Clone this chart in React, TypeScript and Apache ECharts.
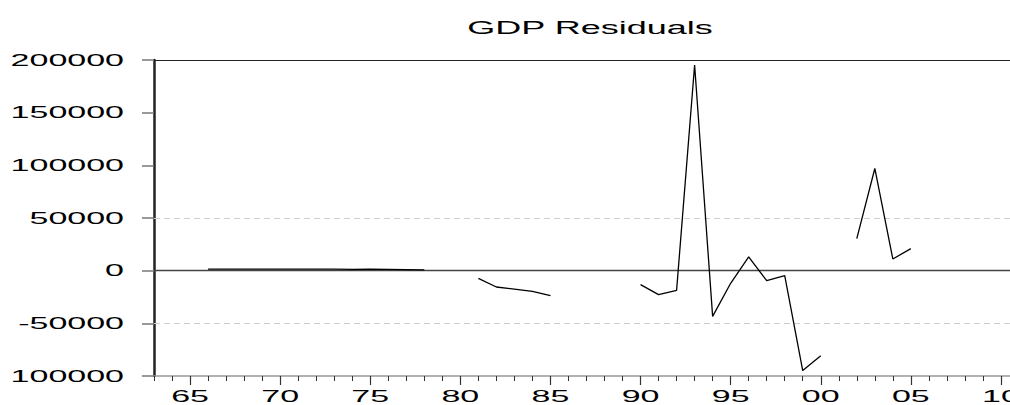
import React, { useEffect, useRef } from "react";
import * as echarts from "echarts";

// Categories: years on the x axis
const years: string[] = [];
for (let y = 1963; y <= 2012; y++) years.push(String(y));

// GDP residuals per year (null = no observation)
const residuals: (number | null)[] = [
  null, null, null, // 1963-1965
  1500, 1400, 1500, 1400, 1500, 1400, 1500, 1400, 1300, 1400, 1300, 1000, 700, // 1966-1978
  null, null, // 1979-1980
  -7300, -15500, -17600, -19700, -23800, // 1981-1985
  null, null, null, null, // 1986-1989
  -13300, -22800, -18700, 195200, -43400, -12000, 13000, -9500, -4800, -94800, -80800, // 1990-2000
  null, // 2001
  30400, 97000, 11100, 20900, // 2002-2005
  null, null, null, null, null, null, null, // 2006-2012
];

const yTicks = [200000, 150000, 100000, 50000, 0, -50000, -100000];
const yTickLabels = ["200000", "150000", "100000", "50000", "0", "-50000", "100000"];
const xLabelYears = ["1965", "1970", "1975", "1980", "1985", "1990", "1995", "2000", "2005", "2010"];
const xLabelTexts = ["65", "70", "75", "80", "85", "90", "95", "00", "05", "10"];
const gridValues = [50000, -50000];
const titleText = "GDP Residuals";

const FONT_FAMILY = '"Liberation Sans", Arial, sans-serif';

export default function App() {
  const ref = useRef<HTMLDivElement>(null);

  useEffect(() => {
    if (!ref.current) return;
    const chart = echarts.init(ref.current, undefined, { renderer: "svg" });
    const option: any = {
      animation: false,
      backgroundColor: "#ffffff",
      grid: {
        left: 154,
        top: 60,
        width: 883,
        height: 316,
        containLabel: false,
        outerBoundsMode: "none",
      },
      xAxis: [
        {
          type: "category",
          data: years,
          boundaryGap: false,
          position: "bottom",
          axisLine: { show: true, onZero: false, lineStyle: { color: "#999", width: 1.5 } },
          axisTick: { show: true, interval: 0, length: 5, lineStyle: { color: "#333", width: 1 } },
          axisLabel: { show: false },
          splitLine: { show: false },
        },
        {
          type: "category",
          data: years,
          boundaryGap: false,
          position: "bottom",
          axisLine: { show: false, onZero: false },
          axisTick: {
            show: true,
            interval: (_i: number, v: string) => Number(v) % 5 === 0,
            length: 9,
            lineStyle: { color: "#333", width: 1.2 },
          },
          axisLabel: { show: false },
          splitLine: { show: false },
        },
        {
          type: "category",
          data: years,
          boundaryGap: false,
          position: "top",
          axisLine: { show: true, onZero: false, lineStyle: { color: "#222", width: 1.2 } },
          axisTick: { show: false },
          axisLabel: { show: false },
          splitLine: { show: false },
        },
      ],
      yAxis: {
        type: "value",
        min: -100000,
        max: 200000,
        interval: 50000,
        axisLine: { show: true, onZero: false, lineStyle: { color: "#222", width: 2.5 } },
        axisTick: { show: true, length: 12, lineStyle: { color: "#777", width: 1.5 } },
        axisLabel: { show: false },
        splitLine: { show: false },
      },
      series: [
        {
          type: "line",
          data: residuals,
          xAxisIndex: 0,
          yAxisIndex: 0,
          symbol: "none",
          connectNulls: false,
          lineStyle: { color: "#000", width: 1.3 },
          z: 5,
          markLine: {
            silent: true,
            symbol: ["none", "none"],
            label: { show: false },
            z: 2,
            data: [
              ...gridValues.map((v) => ({
                yAxis: v,
                lineStyle: { color: "#cfcfcf", width: 1, type: [6, 4] },
              })),
              { yAxis: 0, lineStyle: { color: "#444", width: 1.3, type: "solid" } },
            ],
          },
        },
      ],
    };
    chart.setOption(option);

    const graphics: any[] = [];
    yTicks.forEach((v, i) => {
      const py = chart.convertToPixel({ yAxisIndex: 0 }, v) as number;
      graphics.push({
        type: "text",
        x: 124,
        y: py,
        scaleX: 2,
        silent: true,
        style: {
          text: yTickLabels[i],
          font: `17px ${FONT_FAMILY}`,
          textAlign: "right",
          textVerticalAlign: "middle",
          fill: "#000",
        },
      });
    });
    xLabelYears.forEach((yr, i) => {
      const px = chart.convertToPixel({ xAxisIndex: 0 }, yr) as number;
      graphics.push({
        type: "text",
        x: px,
        y: 396,
        scaleX: 2,
        silent: true,
        style: {
          text: xLabelTexts[i],
          font: `17px ${FONT_FAMILY}`,
          textAlign: "center",
          textVerticalAlign: "middle",
          fill: "#000",
        },
      });
    });
    graphics.push({
      type: "text",
      x: 590,
      y: 28,
      scaleX: 2,
      silent: true,
      style: {
        text: titleText,
        font: `18px ${FONT_FAMILY}`,
        textAlign: "center",
        textVerticalAlign: "middle",
        fill: "#000",
      },
    });
    chart.setOption({ graphic: graphics });

    return () => {
      chart.dispose();
    };
  }, []);

  return (
    <div
      ref={ref}
      style={{ position: "absolute", left: 0, top: 0, width: 1010, height: 405, background: "#fff" }}
    />
  );
}
